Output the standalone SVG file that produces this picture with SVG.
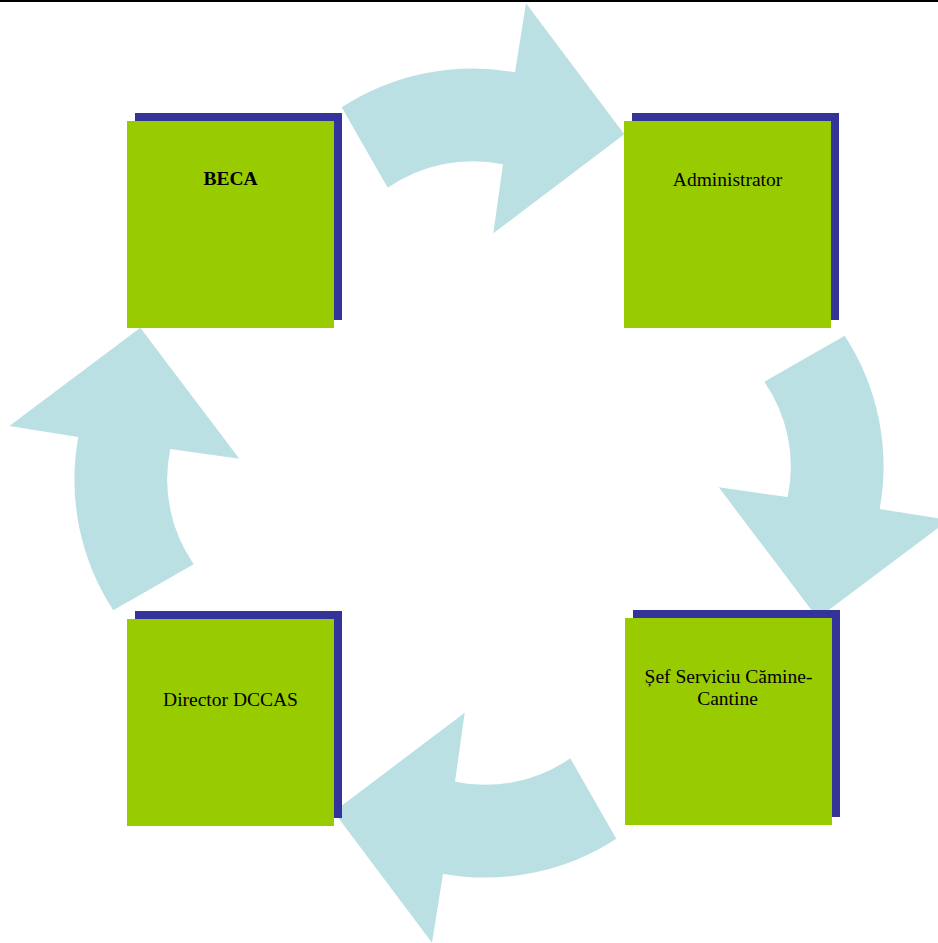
<svg xmlns="http://www.w3.org/2000/svg" width="938" height="943" viewBox="0 0 938 943">
<style>
.arrow{fill:#BBE0E3;stroke:none}
.shadow{fill:#333399}
.box{fill:#99CC00}
.lbl{font-family:"Liberation Serif","Times New Roman",serif;font-size:19.5px;fill:#000;text-anchor:middle}
.bold{font-weight:bold}
</style>
<defs>
<path id="curvedArrow" d="M341.7,107.3 A239,239 0 0 1 515,72.3 L526,3.3 L624.3,134.3 L493.3,233.3 L503,164.3 A149,149 0 0 0 387.7,187.7 Z"/>
</defs>
<rect x="0" y="0" width="938" height="2" fill="#000"/>
<g id="connectors">
<use href="#curvedArrow" class="arrow"/>
<use href="#curvedArrow" class="arrow" transform="rotate(90 479 473)"/>
<use href="#curvedArrow" class="arrow" transform="rotate(180 479 473)"/>
<use href="#curvedArrow" class="arrow" transform="rotate(270 479 473)"/>
</g>
<g id="node-beca">
<rect class="shadow" x="135" y="113" width="207" height="207"/>
<rect class="box" x="127" y="121" width="207" height="207"/>
<text class="lbl bold" x="230.5" y="185">BECA</text>
</g>
<g id="node-administrator">
<rect class="shadow" x="632" y="113" width="207" height="207"/>
<rect class="box" x="624" y="121" width="207" height="207"/>
<text class="lbl" x="727.5" y="186">Administrator</text>
</g>
<g id="node-sef">
<rect class="shadow" x="633" y="610" width="207" height="207"/>
<rect class="box" x="625" y="618" width="207" height="207"/>
<text class="lbl" x="728.5" y="682.5">Șef Serviciu Cămine-</text>
<text class="lbl" x="727.5" y="705">Cantine</text>
</g>
<g id="node-director">
<rect class="shadow" x="135" y="611" width="207" height="207"/>
<rect class="box" x="127" y="619" width="207" height="207"/>
<text class="lbl" x="230.5" y="706">Director DCCAS</text>
</g>
</svg>
